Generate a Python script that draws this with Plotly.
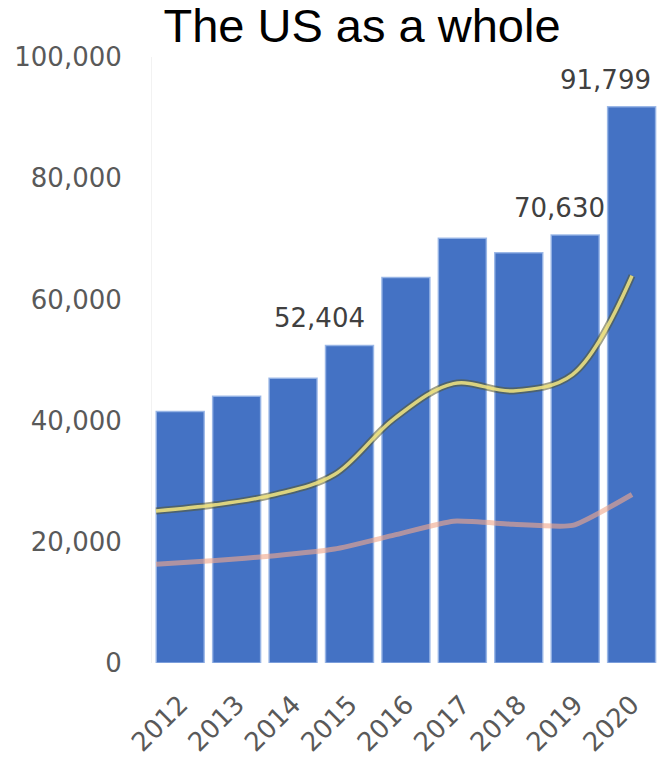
import plotly.graph_objects as go

# Annual totals (bars) and two trend series (lines)
years = [2012, 2013, 2014, 2015, 2016, 2017, 2018, 2019, 2020]
totals = [41500, 44000, 47000, 52404, 63600, 70100, 67700, 70630, 91799]
series_gold = [25100, 26100, 27800, 31100, 40300, 46100, 44900, 47600, 63900]
series_orange = [16300, 16900, 17700, 18800, 21100, 23400, 22900, 22700, 27800]
labelled_years = [2015, 2019, 2020]
y_ticks = [0, 20000, 40000, 60000, 80000, 100000]

year_cats = [str(y) for y in years]

fig = go.Figure()

fig.add_trace(go.Bar(
    x=year_cats, y=totals,
    marker=dict(color="#4472C4", line=dict(color="rgba(150,180,230,0.9)", width=1.5)),
    xaxis="x", yaxis="y", hoverinfo="skip",
))

# gold line: dark outline under a lighter stroke
fig.add_trace(go.Scatter(
    x=years, y=series_gold, mode="lines", xaxis="x2", yaxis="y",
    line=dict(color="rgba(85,85,40,0.55)", width=7, shape="spline", smoothing=1),
    hoverinfo="skip",
))
fig.add_trace(go.Scatter(
    x=years, y=series_gold, mode="lines", xaxis="x2", yaxis="y",
    line=dict(color="rgba(245,232,130,0.85)", width=3.5, shape="spline", smoothing=1),
    hoverinfo="skip",
))
fig.add_trace(go.Scatter(
    x=years, y=series_orange, mode="lines", xaxis="x2", yaxis="y",
    line=dict(color="rgba(240,168,140,0.62)", width=5, shape="spline", smoothing=0.5),
    hoverinfo="skip",
))

# value labels above selected bars (positioned by category index)
label_shift = {2015: -30, 2019: -16, 2020: -26}
for yr in labelled_years:
    i = years.index(yr)
    v = totals[i]
    fig.add_annotation(
        x=i, y=v, xref="x", yref="y", text=f"{v:,}",
        showarrow=False, xanchor="center", yanchor="middle",
        xshift=label_shift[yr], yshift=27,
        font=dict(family="DejaVu Sans", size=26, color="#404040"),
    )

fig.update_layout(
    width=657, height=757,
    margin=dict(l=152, r=0, t=57, b=91),
    paper_bgcolor="white", plot_bgcolor="white",
    showlegend=False, bargap=0.15, hovermode=False,
    title=dict(
        text="The US as a whole", x=362 / 657, xanchor="center",
        y=1, yanchor="top", yref="container", pad=dict(t=9),
        font=dict(family="Liberation Sans", size=47, color="black"),
    ),
    xaxis=dict(
        type="category", range=[-0.5, 8.45], showgrid=False, zeroline=False,
        showline=False, tickangle=-45, ticks="", ticklabelstandoff=20,
        tickfont=dict(family="DejaVu Sans", size=26, color="#595959"),
    ),
    xaxis2=dict(
        overlaying="x", anchor="y", range=[2011.933, 2020.42], visible=False,
    ),
    yaxis=dict(
        range=[0, 100000], tickvals=y_ticks, tickformat=",", showgrid=False,
        zeroline=False, showline=True, linecolor="rgba(0,0,0,0.05)",
        ticks="", ticklabelstandoff=24,
        tickfont=dict(family="DejaVu Sans", size=26, color="#595959"),
    ),
)

fig.write_html("out.html")
